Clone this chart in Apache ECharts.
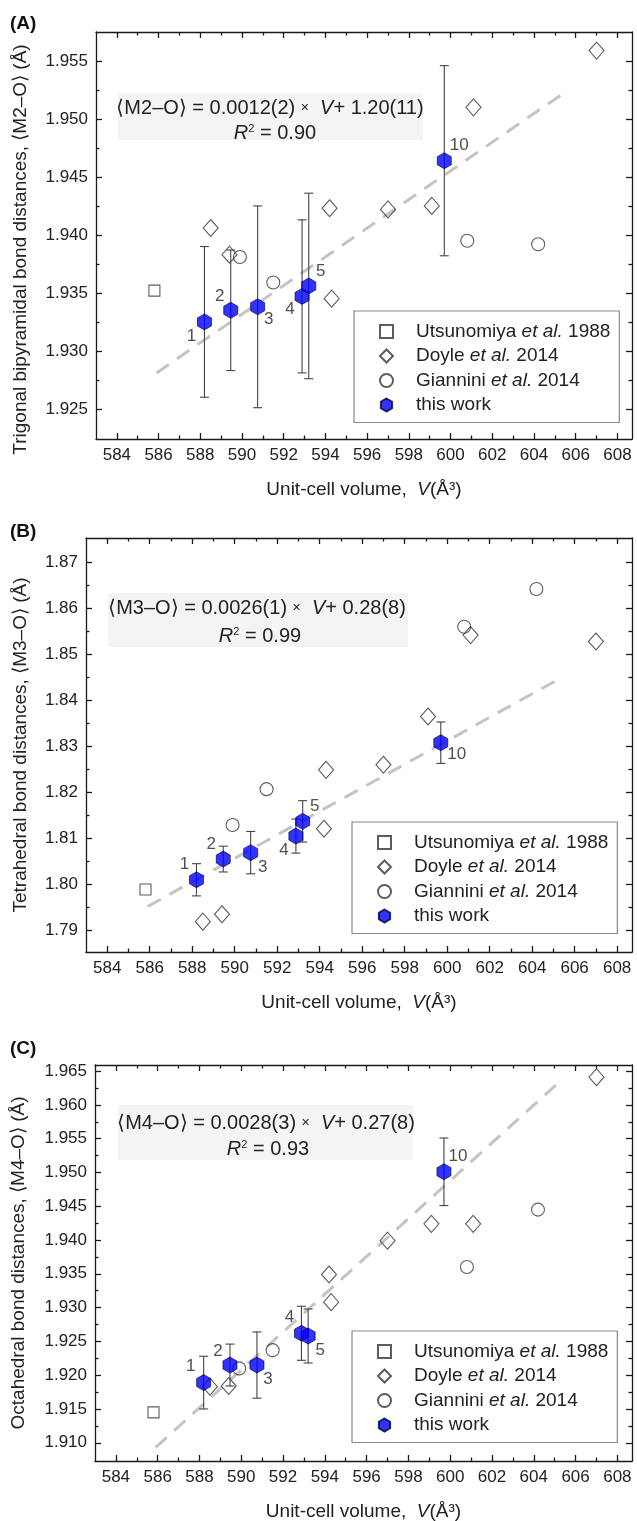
<!DOCTYPE html>
<html>
<head>
<meta charset="utf-8">
<script src="https://cdn.jsdelivr.net/npm/echarts@6/dist/echarts.min.js"></script>
<style>
html,body{margin:0;padding:0;background:#fff;}
#chart{width:637px;height:1521px;}
</style>
</head>
<body>
<div id="chart"></div>
<script>
// ---------------- DATA ----------------
const volumeTicks = [584, 586, 588, 590, 592, 594, 596, 598, 600, 602, 604, 606, 608];
const volumeMinorTicks = [585, 587, 589, 591, 593, 595, 597, 599, 601, 603, 605, 607];

const m2Ticks = [1.925, 1.930, 1.935, 1.940, 1.945, 1.950, 1.955];
const m2MinorTicks = [1.9275, 1.9325, 1.9375, 1.9425, 1.9475, 1.9525];
const m3Ticks = [1.79, 1.80, 1.81, 1.82, 1.83, 1.84, 1.85, 1.86, 1.87];
const m3MinorTicks = [1.795, 1.805, 1.815, 1.825, 1.835, 1.845, 1.855, 1.865];
const m4Ticks = [1.910, 1.915, 1.920, 1.925, 1.930, 1.935, 1.940, 1.945, 1.950, 1.955, 1.960, 1.965];
const m4MinorTicks = [1.9125, 1.9175, 1.9225, 1.9275, 1.9325, 1.9375, 1.9425, 1.9475, 1.9525, 1.9575, 1.9625];

// Utsunomiya et al. 1988
const utsunomiyaV = [585.8];
const utsunomiyaM2 = [1.9352];
const utsunomiyaM3 = [1.7988];
const utsunomiyaM4 = [1.9145];

// Doyle et al. 2014
const doyleV = [588.5, 589.4, 594.2, 594.3, 597.0, 599.1, 601.1, 607.0];
const doyleM2 = [1.9406, 1.9383, 1.9423, 1.9345, 1.9422, 1.9425, 1.9510, 1.9559];
const doyleM3 = [1.7918, 1.7934, 1.8120, 1.8248, 1.8259, 1.8364, 1.8541, 1.8527];
const doyleM4 = [1.9183, 1.9184, 1.9349, 1.9308, 1.9399, 1.9424, 1.9424, 1.9641];

// Giannini et al. 2014
const gianniniV = [589.9, 591.5, 600.8, 604.2];
const gianniniM2 = [1.9381, 1.9359, 1.9395, 1.9392];
const gianniniM3 = [1.8128, 1.8206, 1.8559, 1.8641];
const gianniniM4 = [1.9210, 1.9237, 1.9360, 1.9445];

// this work
const sampleLabels = ['1', '2', '3', '4', '5', '10'];
const thisWorkV = [588.2, 589.46, 590.75, 592.88, 593.2, 599.7];
const thisWorkM2 = [1.9325, 1.9335, 1.9338, 1.9347, 1.9356, 1.9464];
const thisWorkM2Err = [0.0065, 0.0052, 0.0087, 0.0066, 0.0080, 0.0082];
const thisWorkM3 = [1.8009, 1.8054, 1.8068, 1.8104, 1.8136, 1.8307];
const thisWorkM3Err = [0.0035, 0.0028, 0.0046, 0.0037, 0.0045, 0.0045];
const thisWorkM4 = [1.9189, 1.9215, 1.9215, 1.9262, 1.9258, 1.9501];
const thisWorkM4Err = [0.0039, 0.0031, 0.0049, 0.0040, 0.0040, 0.0050];

// linear fits (end points of the dashed lines)
const fitV = [585.9, 605.4];
const fitM2 = [1.9281, 1.9522];
const fitM3 = [1.7951, 1.8449];
const fitM4 = [1.9093, 1.9639];

// ---------------- LAYOUT / STYLE ----------------
const FONT = 'Liberation Sans, Arial, Helvetica, sans-serif';
const INK = '#1a1a1a';
const TXT = '#222';
const V_MIN = 583, V_MAX = 608.7;
const NAMES = ['Utsunomiya et al. 1988', 'Doyle et al. 2014', 'Giannini et al. 2014', 'this work'];
const HEX = 'path://M0,-1L0.866,-0.5L0.866,0.5L0,1L-0.866,0.5L-0.866,-0.5Z';

const panels = [
  {
    tag: '(A)', tagY: 25,
    grid: {left: 96, top: 32, width: 536, height: 407},
    yMin: 1.9224, yMax: 1.9575, yTicks: m2Ticks, yMinor: m2MinorTicks, dec: 3,
    yName: 'Trigonal bipyramidal bond distances, \u27E8M2\u2013O\u27E9 (\u00C5)', yNameGap: 66, yNamePad: [0, 28, 0, 0],
    u: utsunomiyaM2, d: doyleM2, g: gianniniM2, t: thisWorkM2, te: thisWorkM2Err, fit: fitM2,
    offsets: [[-13, 14], [-11, -14], [11, 13], [-12, 13], [12, -15], [15, -15]],
    eqBox: [118, 93, 305, 47], eqX: 270, eqY: 108, r2X: 275, r2Y: 133,
    eq: ['M2', '0.0012(2)', '1.20(11)'], r2: '0.90',
    legend: {left: 354, top: 311}
  },
  {
    tag: '(B)', tagY: 533,
    grid: {left: 86, top: 538, width: 546, height: 414},
    yMin: 1.7852, yMax: 1.8752, yTicks: m3Ticks, yMinor: m3MinorTicks, dec: 2,
    yName: 'Tetrahedral bond distances, \u27E8M3\u2013O\u27E9 (\u00C5)', yNameGap: 56, yNamePad: [0, 0, 0, 0],
    u: utsunomiyaM3, d: doyleM3, g: gianniniM3, t: thisWorkM3, te: thisWorkM3Err, fit: fitM3,
    offsets: [[-12, -15], [-12, -15], [12, 15], [-12, 14], [12, -15], [16, 12]],
    eqBox: [108, 593, 300, 54], eqX: 257, eqY: 608, r2X: 260, r2Y: 636,
    eq: ['M3', '0.0026(1)', '0.28(8)'], r2: '0.99',
    legend: {left: 352, top: 822}
  },
  {
    tag: '(C)', tagY: 1050,
    grid: {left: 95, top: 1065, width: 537, height: 396},
    yMin: 1.9073, yMax: 1.9659, yTicks: m4Ticks, yMinor: m4MinorTicks, dec: 3,
    yName: 'Octahedral bond distances, \u27E8M4\u2013O\u27E9 (\u00C5)', yNameGap: 67, yNamePad: [0, 0, 0, 0],
    u: utsunomiyaM4, d: doyleM4, g: gianniniM4, t: thisWorkM4, te: thisWorkM4Err, fit: fitM4,
    offsets: [[-13, -16], [-12, -14], [11, 14], [-12, -16], [12, 14], [14, -15]],
    eqBox: [118, 1105, 295, 55], eqX: 266, eqY: 1123, r2X: 268, r2Y: 1149,
    eq: ['M4', '0.0028(3)', '0.27(8)'], r2: '0.93',
    legend: {left: 352, top: 1331}
  }
];

const grids = [], xAxes = [], yAxes = [], series = [], legends = [], graphics = [];

const tickLine = {color: INK, width: 1.3};
const EQ_FS = 20;

panels.forEach((p, pi) => {
  grids.push(Object.assign({outerBoundsMode: 'none', containLabel: false}, p.grid));
  const xb = {type: 'value', gridIndex: pi, min: V_MIN, max: V_MAX, splitLine: {show: false},
    axisLine: {show: true, onZero: false, lineStyle: tickLine}};
  xAxes.push(Object.assign({}, xb, {
    position: 'bottom',
    axisTick: {show: true, inside: true, length: 6, customValues: volumeTicks, lineStyle: tickLine},
    axisLabel: {show: true, customValues: volumeTicks, fontSize: 17, color: TXT, fontFamily: FONT, margin: 8},
    name: '{n|Unit-cell volume,  }{i|V}{n|(\u00C5\u00B3)}',
    nameLocation: 'middle', nameGap: 41,
    nameTextStyle: {fontSize: 19, color: TXT, fontFamily: FONT,
      rich: {n: {fontSize: 19, color: TXT, fontFamily: FONT}, i: {fontSize: 19, color: TXT, fontFamily: FONT, fontStyle: 'italic'}}}
  }));
  xAxes.push(Object.assign({}, xb, {position: 'bottom', axisLine: {show: false},
    axisTick: {show: true, inside: true, length: 3.5, customValues: volumeMinorTicks, lineStyle: tickLine},
    axisLabel: {show: false}}));
  xAxes.push(Object.assign({}, xb, {position: 'top',
    axisTick: {show: true, inside: true, length: 6, customValues: volumeTicks, lineStyle: tickLine},
    axisLabel: {show: false}}));
  xAxes.push(Object.assign({}, xb, {position: 'top', axisLine: {show: false},
    axisTick: {show: true, inside: true, length: 3.5, customValues: volumeMinorTicks, lineStyle: tickLine},
    axisLabel: {show: false}}));

  const yb = {type: 'value', gridIndex: pi, min: p.yMin, max: p.yMax, splitLine: {show: false},
    axisLine: {show: true, onZero: false, lineStyle: tickLine}};
  yAxes.push(Object.assign({}, yb, {
    position: 'left',
    axisTick: {show: true, inside: true, length: 6, customValues: p.yTicks, lineStyle: tickLine},
    axisLabel: {show: true, customValues: p.yTicks, fontSize: 17, color: TXT, fontFamily: FONT, margin: 8,
      formatter: (v) => Number(v).toFixed(p.dec)},
    name: p.yName, nameLocation: 'middle', nameGap: p.yNameGap,
    nameTextStyle: {fontSize: 19, color: TXT, fontFamily: FONT, padding: p.yNamePad}
  }));
  yAxes.push(Object.assign({}, yb, {position: 'left', axisLine: {show: false},
    axisTick: {show: true, inside: true, length: 3.5, customValues: p.yMinor, lineStyle: tickLine},
    axisLabel: {show: false}}));
  yAxes.push(Object.assign({}, yb, {position: 'right',
    axisTick: {show: true, inside: true, length: 6, customValues: p.yTicks, lineStyle: tickLine},
    axisLabel: {show: false}}));
  yAxes.push(Object.assign({}, yb, {position: 'right', axisLine: {show: false},
    axisTick: {show: true, inside: true, length: 3.5, customValues: p.yMinor, lineStyle: tickLine},
    axisLabel: {show: false}}));

  const xi = pi * 4, yi = pi * 4;
  const openStyle = {color: 'rgba(255,255,255,0)', borderColor: '#333', borderWidth: 1.1};

  series.push({
    type: 'line', name: 'fit' + pi, xAxisIndex: xi, yAxisIndex: yi, z: 1,
    data: fitV.map((v, i) => [v, p.fit[i]]), symbol: 'none', silent: true,
    lineStyle: {color: '#c4c4c4', width: 3, type: [15, 10]}
  });
  series.push({
    type: 'scatter', name: NAMES[0], xAxisIndex: xi, yAxisIndex: yi, z: 2,
    symbol: 'rect', symbolSize: 11, itemStyle: openStyle,
    data: utsunomiyaV.map((v, i) => [v, p.u[i]])
  });
  series.push({
    type: 'scatter', name: NAMES[1], xAxisIndex: xi, yAxisIndex: yi, z: 2,
    symbol: 'diamond', symbolSize: [15, 17], itemStyle: openStyle,
    data: doyleV.map((v, i) => [v, p.d[i]])
  });
  series.push({
    type: 'scatter', name: NAMES[2], xAxisIndex: xi, yAxisIndex: yi, z: 2,
    symbol: 'circle', symbolSize: 13, itemStyle: openStyle,
    data: gianniniV.map((v, i) => [v, p.g[i]])
  });
  series.push({
    type: 'custom', name: 'err' + pi, xAxisIndex: xi, yAxisIndex: yi, z: 3, silent: true,
    data: thisWorkV.map((v, i) => [v, p.t[i], p.te[i]]),
    renderItem: function (params, api) {
      const x = api.value(0), y = api.value(1), e = api.value(2);
      const top = api.coord([x, y + e]);
      const bot = api.coord([x, y - e]);
      const w = 4.5;
      const st = {stroke: '#444', lineWidth: 1.1};
      return {type: 'group', children: [
        {type: 'line', shape: {x1: top[0], y1: top[1], x2: bot[0], y2: bot[1]}, style: st},
        {type: 'line', shape: {x1: top[0] - w, y1: top[1], x2: top[0] + w, y2: top[1]}, style: st},
        {type: 'line', shape: {x1: bot[0] - w, y1: bot[1], x2: bot[0] + w, y2: bot[1]}, style: st}
      ]};
    }
  });
  series.push({
    type: 'scatter', name: NAMES[3], xAxisIndex: xi, yAxisIndex: yi, z: 4,
    symbol: HEX, symbolSize: [14, 16],
    itemStyle: {color: '#0000ff', borderColor: '#000030', borderWidth: 0.8},
    label: {show: true, position: 'inside', fontSize: 17, color: TXT, fontFamily: FONT,
      formatter: (q) => sampleLabels[q.dataIndex]},
    data: thisWorkV.map((v, i) => ({value: [v, p.t[i]], label: {offset: p.offsets[i]}}))
  });

  legends.push({
    left: p.legend.left, top: p.legend.top, orient: 'vertical',
    data: NAMES, selectedMode: false,
    backgroundColor: '#fff', borderColor: '#8a8a8a', borderWidth: 1.2,
    padding: [11, 9, 8, 25], itemGap: 5.5, itemWidth: 13, itemHeight: 13,
    formatter: (n) => n.indexOf('et al.') >= 0
      ? '{n|' + n.split('et al.')[0] + '}{i|et al.}{n|' + n.split('et al.')[1] + '}'
      : '{n|' + n + '}',
    textStyle: {fontSize: 19, color: TXT, fontFamily: FONT, padding: [0, 0, 0, 18],
      rich: {n: {fontSize: 19, color: TXT, fontFamily: FONT}, i: {fontSize: 19, color: TXT, fontFamily: FONT, fontStyle: 'italic'}}}
  });

  graphics.push({type: 'text', left: 10, top: p.tagY - 11, z: 10,
    style: {text: p.tag, fontSize: 19, fontWeight: 'bold', fontFamily: FONT, fill: '#111'}});
  graphics.push({type: 'rect', z: 0, silent: true,
    shape: {x: p.eqBox[0], y: p.eqBox[1], width: p.eqBox[2], height: p.eqBox[3]},
    style: {fill: '#f4f4f4'}});
  graphics.push({type: 'text', x: p.eqX, y: p.eqY, z: 10,
    style: {
      text: '{n|\u27E8' + p.eq[0] + '\u2013O\u27E9 = ' + p.eq[1] + ' }{x|\u00D7}{n|  }{i|V}{n|+ ' + p.eq[2] + '}',
      align: 'center', verticalAlign: 'middle', fill: TXT, fontSize: EQ_FS, fontFamily: FONT,
      rich: {n: {fontSize: EQ_FS, fontFamily: FONT, fill: TXT}, x: {fontSize: 14, fontFamily: FONT, fill: TXT},
        i: {fontSize: EQ_FS, fontFamily: FONT, fill: TXT, fontStyle: 'italic'}}
    }});
  graphics.push({type: 'text', x: p.r2X, y: p.r2Y, z: 10,
    style: {
      text: '{i|R}{s|2}{n| = ' + p.r2 + '}',
      align: 'center', verticalAlign: 'middle', fill: TXT, fontSize: EQ_FS, fontFamily: FONT,
      rich: {n: {fontSize: EQ_FS, fontFamily: FONT, fill: TXT}, s: {fontSize: 11, fontFamily: FONT, fill: TXT, verticalAlign: 'top', padding: [0, 0, 9, 0]},
        i: {fontSize: EQ_FS, fontFamily: FONT, fill: TXT, fontStyle: 'italic'}}
    }});
});

const chart = echarts.init(document.getElementById('chart'), null, {renderer: 'canvas'});
chart.setOption({
  animation: false,
  backgroundColor: '#fff',
  grid: grids, xAxis: xAxes, yAxis: yAxes,
  legend: legends, series: series, graphic: graphics
});
</script>
</body>
</html>
